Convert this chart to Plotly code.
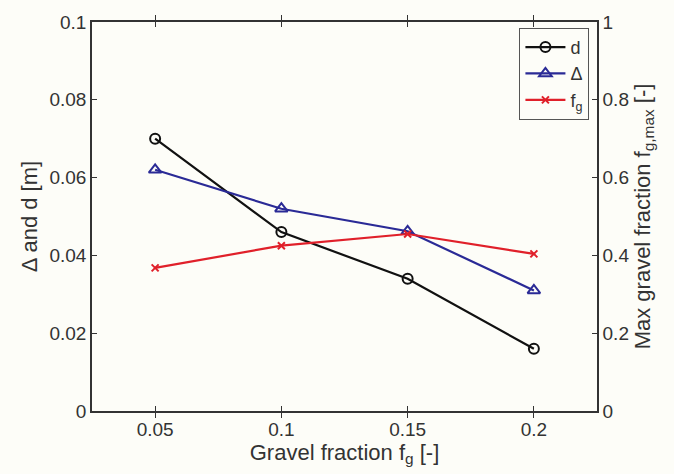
import plotly.graph_objects as go

fg = [0.05, 0.1, 0.15, 0.2]
d_vals = [0.070, 0.046, 0.034, 0.016]
delta_vals = [0.062, 0.052, 0.0462, 0.031]
fgmax_vals = [0.368, 0.425, 0.455, 0.404]

font = dict(family="Liberation Sans, Arial, sans-serif", size=19, color="#333333")
title_font = dict(family="Liberation Sans, Arial, sans-serif", size=22, color="#333333")
bg = "#fdfdf8"

fig = go.Figure()
fig.add_trace(go.Scatter(x=fg, y=d_vals, name="d", mode="lines+markers",
                         line=dict(color="#111111", width=2.2),
                         marker=dict(symbol="circle-open", size=10, color="#111111", line=dict(width=2))))
fig.add_trace(go.Scatter(x=fg, y=delta_vals, name="Δ", mode="lines+markers",
                         line=dict(color="#2a2a96", width=2.2),
                         marker=dict(symbol="triangle-up-open", size=11, color="#2a2a96", line=dict(width=2))))
fig.add_trace(go.Scatter(x=fg, y=fgmax_vals, name="f<sub>g</sub>", mode="lines+markers", yaxis="y2",
                         line=dict(color="#e0202a", width=2.2),
                         marker=dict(symbol="x-thin-open", size=7, color="#e0202a", line=dict(width=2, color="#e0202a"))))

axis_common = dict(showgrid=False, zeroline=False, showline=True, linecolor="#333333", linewidth=1.5,
                   ticks="inside", ticklen=5, tickcolor="#333333", tickfont=font)

fig.update_layout(
    width=674, height=474,
    margin=dict(l=92, r=77, t=17, b=63),
    paper_bgcolor=bg, plot_bgcolor=bg,
    font=font,
    xaxis=dict(range=[0.025, 0.225], tickvals=[0.05, 0.1, 0.15, 0.2], ticktext=["0.05", "0.1", "0.15", "0.2"],
               mirror="allticks",
               title=dict(text="Gravel fraction f<sub>g</sub> [-]", font=title_font, standoff=4),
               **axis_common),
    yaxis=dict(range=[0, 0.1], tickvals=[0, 0.02, 0.04, 0.06, 0.08, 0.1],
               ticktext=["0", "0.02", "0.04", "0.06", "0.08", "0.1"],
               title=dict(text="Δ and d [m]", font=title_font, standoff=6),
               **axis_common),
    yaxis2=dict(range=[0, 1], overlaying="y", side="right", tickvals=[0, 0.2, 0.4, 0.6, 0.8, 1],
                ticktext=["0", "0.2", "0.4", "0.6", "0.8", "1"],
                title=dict(text="Max gravel fraction f<sub>g,max</sub> [-]", font=title_font, standoff=6),
                **axis_common),
    legend=dict(x=0.985, y=0.985, xanchor="right", yanchor="top", bgcolor=bg,
                bordercolor="#555555", borderwidth=1, font=dict(family="Liberation Sans, Arial, sans-serif", size=18, color="#333333"),
                itemwidth=40, tracegroupgap=0),
    showlegend=True,
)

fig.write_html("out.html")
